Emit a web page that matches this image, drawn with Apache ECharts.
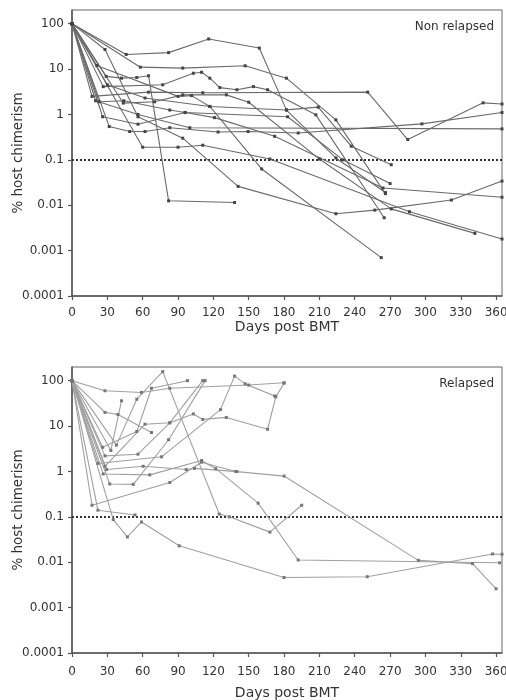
<!DOCTYPE html>
<html><head><meta charset="utf-8">
<script src="https://cdn.jsdelivr.net/npm/echarts@6/dist/echarts.min.js"></script>
<style>html,body{margin:0;padding:0;background:#fff}#c{width:506px;height:700px}</style>
</head><body><div id="c"></div><script>
// ---- axis ticks ----
const xTicks = [0,30,60,90,120,150,180,210,240,270,300,330,360];
const yTicks = [0.0001,0.001,0.01,0.1,1,10,100];
const yTickLabels = ['0.0001','0.001','0.01','0.1','1','10','100'];
const thresholdValue = 0.1;
const panelLabels = ['Non relapsed','Relapsed'];
const xTitle = 'Days post BMT';
const yTitle = '% host chimerism';

// ---- Non relapsed patients: [day, % host chimerism] ----
const nr1 = [[0,100],[46,21],[82,23],[116,46],[159,29],[182,1.26],[209,1.45],[237,0.2],[271,0.078]];
const nr2 = [[0,100],[58,11],[94,10.5],[147,11.8],[182,6.3],[224,0.76],[266,0.018]];
const nr3 = [[0,100],[17,2.5],[65,3.1],[111,3.0],[251,3.1],[285,0.28],[349,1.8],[365,1.7]];
const nr4 = [[0,100],[29,6.9],[42,6.3],[55,6.5],[65,7.1],[82,0.0125],[138,0.0115]];
const nr5 = [[0,100],[28,27],[56,0.89],[94,0.30],[141,0.026],[224,0.0065],[257,0.0078],[322,0.013],[365,0.034]];
const nr6 = [[0,100],[26.5,4.1],[77,4.5],[103,8.1],[110,8.5],[117,6.3],[125.5,3.9],[140,3.5],[154,4.1],[166,3.5],[207,0.98],[265,0.0053]];
const nr7 = [[0,100],[43.5,1.78],[70,1.9],[94,2.7],[131,2.7],[150,1.86],[210,0.104],[271,0.0083],[342,0.0024]];
const nr8 = [[0,100],[26,0.89],[56,0.61],[96,1.1],[121,0.85],[172,0.33],[264,0.024],[365,0.015]];
const nr9 = [[0,100],[31.6,0.54],[49,0.42],[62,0.42],[83,0.51],[124,0.41],[149.5,0.42],[192,0.39],[297,0.62],[365,1.1]];
const nr10 = [[0,100],[60,0.19],[90,0.19],[111,0.21],[168,0.104],[286.5,0.0072],[365,0.0018]];
const nr11 = [[0,100],[21,12],[90,2.5],[101.5,2.6],[117,1.5],[161,0.063],[262.5,0.0007]];
const nr12 = [[0,100],[20,2.0],[56,1.0],[100,0.51],[365,0.48]];
const nr13 = [[0,100],[23,1.9],[44,2.0],[83,1.25],[96,1.1],[183,0.89],[230,0.1],[270,0.03]];
const nr14 = [[0,100],[30,4.5],[62,2.3],[117,1.5],[182,1.25],[224,0.11],[266,0.019]];

// ---- Relapsed patients ----
const r1 = [[0,100],[28,60],[59,55],[83,68],[150,80],[180,90]];
const r2 = [[0,100],[28,20],[39,18],[67.5,7.2]];
const r3 = [[0,100],[33,2.9],[42,36]];
const r4 = [[0,100],[26,3.4],[55,7.6],[67.5,68],[98,100]];
const r5 = [[0,100],[37.7,3.8],[55,39],[77,158],[125,0.115],[133.6,0.1],[168,0.046],[195,0.18]];
const r6 = [[0,100],[28,2.2],[56,2.4],[83,11.8],[111,100]];
const r7 = [[0,100],[22,1.5],[76,2.1],[126,23],[138,126],[147,85],[172,46]];
const r8 = [[0,100],[28,1.3],[62,11],[83,11.8],[103,18.5],[111,14],[131,15.5],[166,8.5],[173,44],[180,88]];
const r9 = [[0,100],[29.4,1.1],[60.4,1.3],[97,1.1],[104,1.17],[140,0.99],[180,0.79],[294,0.011],[340,0.0093],[360,0.0026]];
const r10 = [[0,100],[26.5,0.88],[66,0.84],[110,1.74],[122,1.15],[158,0.2],[192,0.0112],[363,0.0097]];
const r11 = [[0,100],[32,0.53],[52,0.52],[82,5],[113,100]];
const r12 = [[0,100],[17,0.18],[83,0.57],[110,1.6],[139,1.0]];
const r13 = [[0,100],[22,0.14],[53.5,0.11]];
const r14 = [[0,100],[35,0.087],[47,0.036],[59,0.077],[91,0.023],[180,0.0046],[250.6,0.0048],[357,0.0152],[365,0.015]];

const panels = [
  {patients:[nr1,nr2,nr3,nr4,nr5,nr6,nr7,nr8,nr9,nr10,nr11,nr12,nr13,nr14], line:'#6a6a6a', mark:'#444', xNameGap:24, xLabelMargin:11},
  {patients:[r1,r2,r3,r4,r5,r6,r7,r8,r9,r10,r11,r12,r13,r14], line:'#a0a0a0', mark:'#777', xNameGap:33, xLabelMargin:13}
];

const FONT = 'DejaVu Sans';
const chart = echarts.init(document.getElementById('c'), null, {renderer:'canvas'});
const grids = [
  {left:72, right:4, top:10, height:286},
  {left:72, right:4, top:367, height:286}
];
const xAxes = [], yAxes = [], series = [], titles = [];
grids.forEach((g,i)=>{
  g.show = true; g.borderColor = '#666'; g.borderWidth = 1; g.backgroundColor='#fff';
  g.containLabel = false; g.outerBoundsMode = 'none';
  const p = panels[i];
  xAxes.push({
    type:'value', gridIndex:i, min:0, max:365,
    name:xTitle, nameLocation:'middle', nameGap:p.xNameGap, nameMoveOverlap:false,
    nameTextStyle:{fontFamily:FONT, fontSize:14, color:'#333'},
    axisLine:{show:true, onZero:false, lineStyle:{color:'#555', width:1.5}},
    axisTick:{show:true, customValues:xTicks, length:4, lineStyle:{color:'#555', width:1.2}},
    axisLabel:{customValues:xTicks, fontFamily:FONT, fontSize:12, color:'#333', margin:p.xLabelMargin},
    splitLine:{show:false}
  });
  yAxes.push({
    type:'log', logBase:10, gridIndex:i, min:0.0001, max:200,
    name:yTitle, nameLocation:'middle', nameGap:47, nameRotate:90, nameMoveOverlap:false,
    nameTextStyle:{fontFamily:FONT, fontSize:13.5, color:'#333'},
    axisLine:{show:true, onZero:false, lineStyle:{color:'#555', width:1.5}},
    axisTick:{show:true, customValues:yTicks, length:4, lineStyle:{color:'#555', width:1.2}},
    axisLabel:{customValues:yTicks, fontFamily:FONT, fontSize:12, color:'#333', margin:8,
      formatter:(v)=>{let best=0;for(let k=0;k<yTicks.length;k++){if(Math.abs(Math.log10(v)-Math.log10(yTicks[k]))<Math.abs(Math.log10(v)-Math.log10(yTicks[best])))best=k;}return yTickLabels[best];}},
    splitLine:{show:false}
  });
  titles.push({text:panelLabels[i], right:7, top:g.top+6,
    textStyle:{fontFamily:FONT, fontSize:12, fontWeight:'normal', color:'#333'}});
  p.patients.forEach((d,j)=>{
    const s = {type:'line', xAxisIndex:i, yAxisIndex:i, data:d, symbol:'rect', symbolSize:3,
      showSymbol:true, lineStyle:{color:p.line, width:1.1}, itemStyle:{color:p.mark},
      silent:true, animation:false, clip:true, z:3};
    if(j===0){
      s.markLine = {silent:true, symbol:'none', animation:false, label:{show:false},
        lineStyle:{type:[2,2], color:'#333', width:2}, data:[{yAxis:thresholdValue}], z:2};
    }
    series.push(s);
  });
});
chart.setOption({
  backgroundColor:'#fff', animation:false,
  title:titles, grid:grids, xAxis:xAxes, yAxis:yAxes, series:series
});
</script></body></html>
